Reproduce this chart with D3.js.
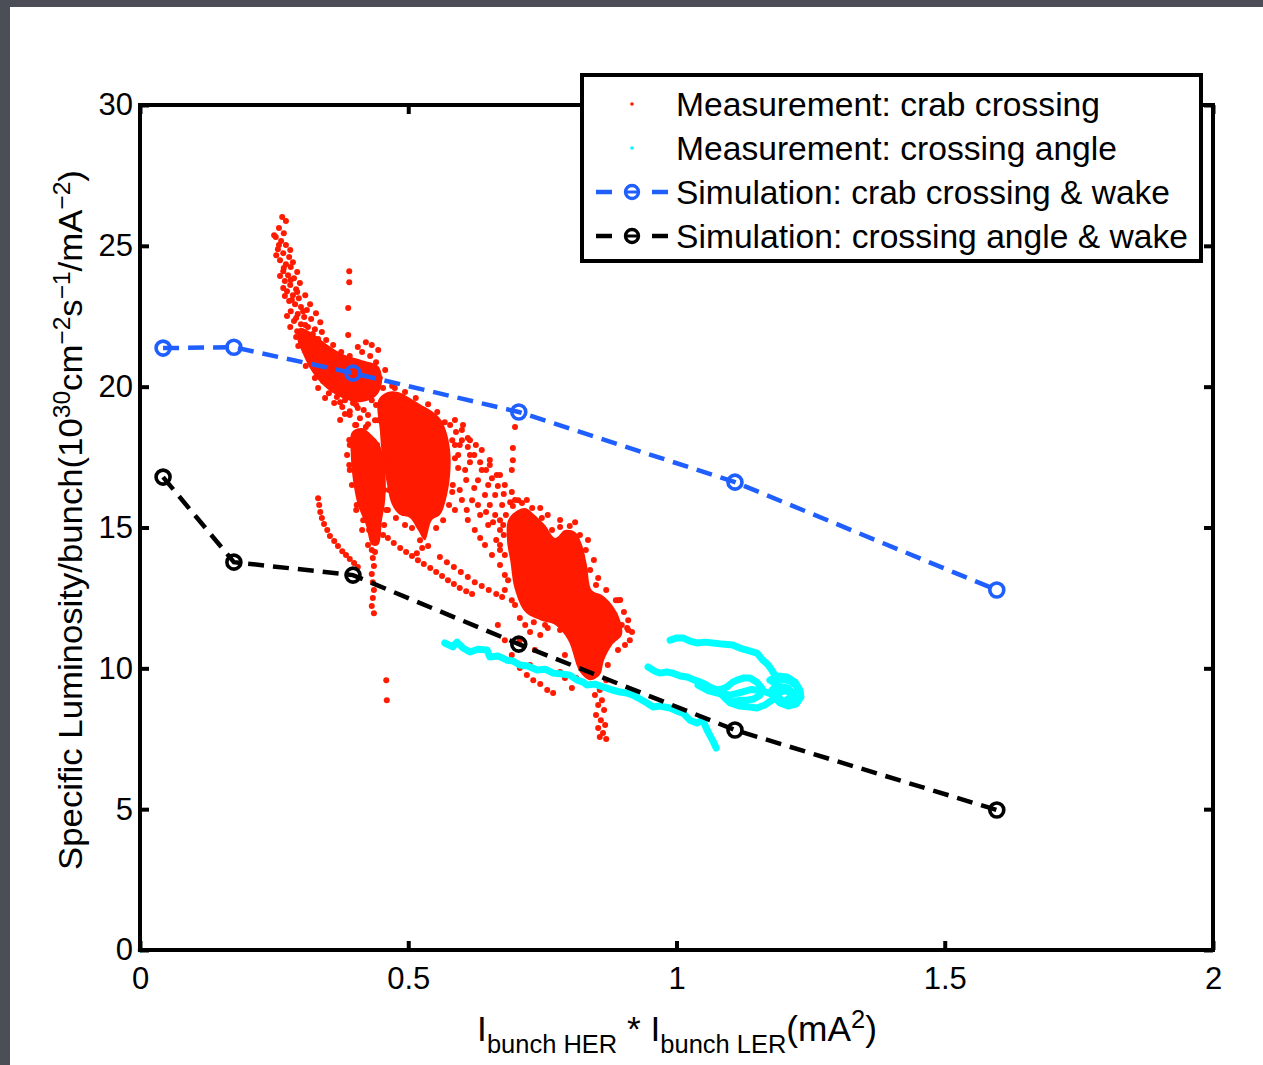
<!DOCTYPE html>
<html><head><meta charset="utf-8">
<script src="https://cdn.jsdelivr.net/npm/d3@7"></script>
<style>body{margin:0;background:#4b4e57;} svg{display:block;}</style>
</head><body><svg id="c" width="1263" height="1065"></svg>
<script>
// ---------------- DATA ----------------
const xTicks = [0, 0.5, 1, 1.5, 2];
const xTickLabels = ["0", "0.5", "1", "1.5", "2"];
const yTicks = [0, 5, 10, 15, 20, 25, 30];
const yTickLabels = ["0", "5", "10", "15", "20", "25", "30"];

const simX = [0.043, 0.175, 0.397, 0.706, 1.109, 1.597];
const simCrabWake = [21.37, 21.40, 20.48, 19.10, 16.61, 12.78];
const simAngleWake = [16.79, 13.77, 13.31, 10.86, 7.81, 4.97];

const legendLabels = [
  "Measurement: crab crossing",
  "Measurement: crossing angle",
  "Simulation: crab crossing & wake",
  "Simulation: crossing angle & wake"
];

// measurement (crab crossing): dense cores
const crabDenseRegions = [
  [[0.444,19.52],[0.462,19.81],[0.481,19.81],[0.503,19.60],[0.522,19.38],[0.541,19.17],[0.559,18.88],[0.570,18.46],[0.578,17.75],[0.578,16.86],[0.570,15.97],[0.559,15.44],[0.544,15.26],[0.531,14.55],[0.518,14.91],[0.503,15.34],[0.485,15.44],[0.470,15.80],[0.459,16.68],[0.451,17.57],[0.447,18.46]],
  [[0.395,18.39],[0.414,18.53],[0.432,18.28],[0.447,17.93],[0.457,17.04],[0.457,15.97],[0.451,15.26],[0.444,14.38],[0.432,14.38],[0.421,15.09],[0.406,15.80],[0.397,16.68],[0.393,17.57]],
  [[0.686,15.26],[0.699,15.55],[0.718,15.69],[0.736,15.44],[0.755,15.09],[0.774,14.63],[0.792,14.91],[0.811,14.84],[0.824,14.38],[0.833,13.67],[0.842,12.78],[0.861,12.60],[0.880,12.25],[0.895,11.71],[0.898,11.18],[0.880,10.83],[0.865,10.29],[0.857,9.76],[0.839,9.58],[0.820,9.87],[0.798,11.00],[0.774,11.54],[0.746,11.71],[0.718,12.00],[0.699,12.78],[0.690,13.84],[0.684,14.55]],
  [[0.298,22.08],[0.321,21.90],[0.350,21.48],[0.382,21.12],[0.414,20.94],[0.444,20.73],[0.451,20.16],[0.440,19.67],[0.410,19.45],[0.377,19.60],[0.347,19.95],[0.321,20.52],[0.302,21.23],[0.293,21.73]]
];

// measurement (crab crossing): individual points
const crabTailPoints = [
  [0.265,26.02],[0.272,25.88],[0.259,25.63],[0.268,25.45],[0.253,25.31],[0.263,25.17],[0.272,25.03],[0.257,24.88],[0.267,24.74],[0.278,24.60],
  [0.261,24.49],[0.272,24.35],[0.281,24.25],[0.267,24.10],[0.276,23.96],[0.287,23.85],[0.270,23.75],[0.280,23.61],[0.291,23.46],[0.274,23.39],
  [0.285,23.25],[0.296,23.14],[0.278,23.04],[0.289,22.93],[0.300,22.83],[0.311,22.72],[0.281,22.68],[0.294,22.58],[0.306,22.47],[0.319,22.40],
  [0.287,22.33],[0.300,22.22],[0.313,22.12],[0.326,22.04],[0.293,21.97],[0.306,21.87],[0.319,21.76],[0.332,21.69],[0.300,21.62],[0.315,21.51],
  [0.330,21.41],[0.345,21.34],[0.308,21.26],[0.322,21.19],[0.337,21.09],[0.352,21.02],[0.367,20.91],[0.319,20.91],[0.334,20.80],[0.349,20.70],
  [0.363,20.63],[0.378,20.55],[0.330,20.55],[0.345,20.41],[0.360,20.30],[0.375,20.20],[0.390,20.13],[0.341,20.20],[0.356,20.02],[0.371,19.91],
  [0.386,19.84],[0.401,19.77],[0.352,19.77],[0.367,19.63],[0.382,19.52],[0.397,19.42],[0.362,19.42],[0.377,19.28],[0.391,19.13],
  [0.390,24.10],[0.390,23.71],[0.388,22.79],[0.388,21.83],
  [0.414,21.23],[0.429,21.09],[0.440,20.87],[0.419,20.73],[0.432,20.52],[0.410,20.23],[0.425,20.06],[0.438,19.88],[0.417,19.70],[0.432,19.52],
  [0.406,19.88],[0.403,19.35],[0.417,19.17],[0.410,18.88],[0.391,18.99],[0.425,18.99],[0.438,18.81],[0.401,18.64],[0.373,19.81],[0.444,21.30],[0.432,21.48]
];
const crabTailFillPoints = [
  [0.250,25.38],[0.259,25.03],[0.280,24.85],[0.254,24.67],[0.285,24.42],[0.268,24.21],[0.293,24.07],[0.261,23.93],[0.281,23.79],[0.298,23.68],
  [0.267,23.50],[0.293,23.36],[0.308,23.25],[0.283,23.08],[0.317,22.93],[0.270,23.22],[0.304,22.68],[0.328,22.61],[0.274,22.51],[0.291,22.44],
  [0.336,22.29],[0.308,22.19],[0.280,22.12],[0.339,21.94],[0.322,21.87],[0.291,21.76],[0.347,21.66],[0.309,21.66],[0.360,21.48],[0.337,21.51],
  [0.295,21.44],[0.375,21.23],[0.328,21.09],[0.391,21.09],[0.354,20.87],[0.380,20.80],[0.403,20.73],[0.309,20.73],[0.339,20.66],[0.369,20.52],
  [0.391,20.45],[0.418,20.38],[0.326,20.31],[0.350,20.31],[0.382,20.09],[0.404,20.09],[0.332,19.95],[0.362,19.88],[0.391,19.67],[0.414,19.60],
  [0.345,19.60],[0.373,19.45],[0.406,19.24],[0.382,19.03],[0.425,18.67],[0.373,18.82],[0.447,20.31],[0.457,20.59],[0.421,21.58],[0.406,21.41],
  [0.457,19.52],[0.470,19.60],[0.466,19.28],[0.453,19.10],[0.475,19.95]
];
const crabMainPoints = [
  [0.440,19.35],[0.453,19.95],[0.470,20.02],[0.494,19.81],[0.514,19.60],[0.537,19.38],[0.554,19.10],[0.568,18.74],[0.582,18.10],[0.587,17.46],
  [0.583,16.51],[0.576,15.80],[0.565,15.26],[0.552,14.98],[0.537,14.34],[0.522,14.55],[0.507,14.98],[0.494,15.09],[0.477,15.34],[0.462,15.62],
  [0.455,16.33],[0.447,17.04],[0.442,17.93],[0.444,18.81],[0.526,14.27],[0.516,14.09],
  [0.391,17.93],[0.403,18.64],[0.421,18.57],[0.390,17.22],[0.395,16.51],[0.404,15.80],[0.416,15.26],[0.427,14.91],[0.438,14.13],[0.455,15.09],
  [0.390,18.11],[0.386,17.57],[0.391,17.04],[0.464,17.40],[0.464,16.33],[0.459,15.62],[0.453,14.73],[0.425,14.38],[0.414,14.91],[0.403,15.62],
  [0.432,14.20],[0.434,13.92],[0.436,13.63],[0.432,13.35],[0.434,13.06],[0.436,12.78],[0.434,12.50],[0.432,12.21],[0.436,11.96],
  [0.459,9.58],[0.460,8.87]
];
const crabStreamPoints = [
  [0.332,16.04],[0.334,15.80],[0.336,15.55],[0.339,15.34],[0.343,15.12],[0.349,14.91],[0.354,14.70],[0.362,14.52],[0.369,14.34],[0.377,14.16],
  [0.384,14.02],[0.391,13.88],[0.399,13.74],[0.406,13.60],
  [0.462,14.63],[0.473,14.45],[0.485,14.27],[0.496,14.13],[0.507,13.99],[0.518,13.84],[0.529,13.70],[0.541,13.56],[0.552,13.42],[0.563,13.28],
  [0.574,13.13],[0.585,12.99],[0.596,12.85],[0.608,12.74],[0.619,12.64],
  [0.559,13.95],[0.572,13.77],[0.585,13.60],[0.598,13.42],[0.611,13.24],[0.624,13.06],[0.637,12.92],[0.650,12.78],[0.664,12.64],[0.675,12.53],
  [0.578,18.64],[0.589,18.39],[0.600,18.10],[0.611,17.86],[0.623,17.57],[0.634,17.32],[0.645,17.04],[0.656,16.75],[0.667,16.47],[0.678,16.19],[0.690,15.90],
  [0.593,17.57],[0.606,17.04],[0.615,17.32],[0.630,16.68],[0.643,16.15],[0.652,15.80],[0.662,15.44],[0.619,15.97],[0.634,15.44],[0.649,15.09],
  [0.596,16.33],[0.609,15.62],[0.671,14.91],[0.624,14.91],[0.643,14.38],[0.656,14.02],[0.671,13.67],[0.680,13.31],[0.671,15.26],[0.602,18.64],
  [0.615,18.10],[0.587,17.93],[0.637,17.75],[0.652,17.22],[0.665,16.86],[0.680,16.51],[0.693,16.26],[0.705,15.97],
  [0.699,18.57],[0.695,17.82],[0.695,17.39],[0.693,17.04]
];
const crabMidFillPoints = [
  [0.587,18.82],[0.600,18.46],[0.611,18.18],[0.626,17.93],[0.593,17.11],[0.608,16.69],[0.623,16.40],[0.637,17.04],[0.649,16.51],[0.662,16.15],
  [0.630,15.80],[0.645,15.55],[0.658,15.19],[0.675,15.80],[0.600,15.98],[0.587,15.62],[0.611,15.27],[0.634,14.63],[0.664,14.56],[0.652,17.40],
  [0.671,16.86],[0.596,17.93],[0.615,17.57],[0.582,16.26],[0.671,14.20]
];
const crabLowerPoints = [
  [0.682,15.44],[0.695,15.76],[0.712,15.87],[0.731,15.69],[0.749,15.34],[0.768,14.91],[0.783,15.02],[0.801,15.05],[0.820,14.73],[0.831,14.20],
  [0.839,13.49],[0.850,12.96],[0.869,12.78],[0.887,12.42],[0.902,12.00],[0.908,11.43],[0.891,10.65],[0.872,10.12],[0.869,9.58],[0.842,9.44],
  [0.813,9.66],[0.792,10.47],[0.783,11.36],[0.760,11.43],[0.734,11.64],[0.708,11.79],[0.693,12.42],[0.686,13.13],[0.680,14.02],[0.678,14.73],
  [0.677,15.09],[0.671,14.38],[0.680,12.78],[0.699,12.25],[0.755,11.54],[0.839,11.72],[0.857,12.07],[0.880,12.00],[0.895,12.43],[0.854,13.21],
  [0.846,13.85],[0.835,14.56],[0.811,15.19],[0.783,15.27],[0.760,15.44],[0.746,15.69],[0.721,15.98],[0.699,15.98],
  [0.885,11.89],[0.898,11.54],[0.910,11.36],[0.913,11.00],[0.904,10.83],[0.891,12.42],[0.917,11.29],[0.910,11.71],[0.880,11.00],
  [0.852,9.41],[0.857,9.23],[0.848,9.05],[0.861,8.87],[0.854,8.70],[0.865,8.52],[0.850,8.34],[0.859,8.16],[0.867,7.99],[0.854,7.88],
  [0.863,7.70],[0.857,7.56],[0.869,7.49],
  [0.708,10.01],[0.721,9.76],[0.733,9.58],[0.746,9.44],[0.759,9.23],[0.770,9.12],[0.727,10.12],[0.783,9.87],[0.805,9.30],[0.792,9.66],
  [0.693,10.47],[0.680,11.00],[0.667,11.54],[0.708,11.00],[0.736,10.65],[0.718,11.54],[0.727,11.29],[0.746,11.18]
];

// measurement (crossing angle): traces of consecutive points
const angleTraces = [
  [[0.568,10.90],[0.583,10.76],[0.591,10.93],[0.602,10.72],[0.615,10.58],[0.630,10.68],[0.647,10.65],[0.652,10.40],[0.667,10.44],[0.684,10.29],
   [0.695,10.26],[0.708,10.12],[0.723,10.08],[0.740,9.94],[0.755,9.97],[0.770,9.83],[0.787,9.80],[0.801,9.76],[0.815,9.58],[0.826,9.51],
   [0.833,9.41],[0.848,9.44],[0.863,9.34],[0.880,9.23],[0.895,9.16],[0.908,9.12],[0.919,9.05],[0.932,8.91],[0.945,8.77],[0.956,8.63],
   [0.969,8.66],[0.988,8.59],[1.001,8.48],[1.012,8.41],[1.025,8.16],[1.038,8.06],[1.049,8.16],[1.057,7.81],[1.064,7.56],[1.068,7.42],[1.074,7.17]],
  [[0.988,11.00],[1.001,11.08],[1.012,11.08],[1.025,10.97],[1.038,10.90],[1.053,10.93],[1.068,10.90],[1.085,10.86],[1.105,10.83],[1.118,10.72],
   [1.131,10.65],[1.150,10.54],[1.161,10.29],[1.171,10.12],[1.180,9.87],[1.185,9.66],
   [1.174,9.58],[1.189,9.73],[1.206,9.69],[1.221,9.51],[1.230,9.23],[1.232,8.98],[1.223,8.73],[1.208,8.66],[1.193,8.77],[1.182,8.98],
   [1.178,9.23],[1.189,9.37],[1.208,9.30],[1.219,9.05],[1.204,8.87]],
  [[0.947,10.05],[0.960,9.90],[0.969,9.83],[0.982,9.87],[0.993,9.83],[1.007,9.73],[1.020,9.69],[1.034,9.58],[1.049,9.48],[1.062,9.34],
   [1.075,9.23],[1.085,9.27],[1.094,9.34],[1.105,9.51],[1.113,9.58],[1.126,9.66],[1.137,9.66],[1.150,9.51],[1.159,9.30],[1.156,9.05],
   [1.144,8.91],[1.131,8.87],[1.118,8.87],[1.105,8.80],[1.094,8.87],[1.085,9.05],[1.100,8.77],[1.118,8.66],[1.137,8.63],[1.150,8.59],
   [1.165,8.70],[1.178,8.87]],
  [[1.180,9.50],[1.195,9.62],[1.212,9.55],[1.225,9.35],[1.228,9.10],[1.215,8.85],[1.197,8.82],[1.186,9.10],[1.200,9.20],[1.215,9.15]],
  [[1.040,9.40],[1.060,9.20],[1.080,9.10],[1.100,9.05],[1.120,9.15],[1.140,9.25],[1.160,9.20],[1.175,9.10]]
];
const angleSinglePoints = [[0, 0]];

// ---------------- CHART ----------------
const W = 1263, H = 1065;
const RED = "#ff1a00", CYAN = "#00ffff", BLUE = "#1f5fff";
const FONT = "'Liberation Sans', Arial, Helvetica, sans-serif";
const svg = d3.select("#c");
svg.append("rect").attr("x", 10).attr("y", 7).attr("width", W - 10).attr("height", H - 7).attr("fill", "#fff");

const m = {l: 140, r: 1213, t: 105, b: 950};
const x = d3.scaleLinear().domain([0, 2]).range([m.l, m.r]);
const y = d3.scaleLinear().domain([0, 30]).range([m.b, m.t]);

const plot = svg.append("g");
const line = d3.line().x(d => x(d[0])).y(d => y(d[1]));

// red dense cores
plot.selectAll("path.dense").data(crabDenseRegions).join("path")
  .attr("d", d => d3.line().x(p => x(p[0])).y(p => y(p[1])).curve(d3.curveCatmullRomClosed.alpha(0.5))(d))
  .attr("fill", RED);
// red points
const crabPoints = crabTailPoints.concat(crabTailFillPoints, crabMainPoints, crabStreamPoints, crabMidFillPoints, crabLowerPoints);
plot.selectAll("circle.crab").data(crabPoints).join("circle")
  .attr("cx", d => x(d[0])).attr("cy", d => y(d[1])).attr("r", 3).attr("fill", RED);

// cyan traces
plot.selectAll("path.angle").data(angleTraces).join("path")
  .attr("d", line).attr("fill", "none").attr("stroke", CYAN).attr("stroke-width", 7)
  .attr("stroke-linejoin", "round").attr("stroke-linecap", "round");
plot.selectAll("circle.angle").data(angleSinglePoints).join("circle")
  .attr("cx", d => x(d[0])).attr("cy", d => y(d[1])).attr("r", 2.6).attr("fill", CYAN);

// simulations
function drawSim(vals, color) {
  const pts = simX.map((v, i) => [v, vals[i]]);
  plot.append("path").attr("d", line(pts)).attr("fill", "none").attr("stroke", color)
    .attr("stroke-width", 4.5).attr("stroke-dasharray", "16,9");
  plot.selectAll(null).data(pts).join("circle")
    .attr("cx", d => x(d[0])).attr("cy", d => y(d[1])).attr("r", 7)
    .attr("fill", "none").attr("stroke", color).attr("stroke-width", 3.6);
}
drawSim(simCrabWake, BLUE);
drawSim(simAngleWake, "#000");

// axes
function styleAxis(g) {
  g.select(".domain").remove();
  g.selectAll(".tick line").attr("stroke", "#000").attr("stroke-width", 4);
  g.selectAll(".tick text").attr("fill", "#000").style("font-family", FONT).style("font-size", "31px");
}
svg.append("g").attr("transform", `translate(0,${m.b})`)
  .call(d3.axisBottom(x).tickValues(xTicks).tickFormat((d, i) => xTickLabels[i]).tickSize(-9).tickPadding(17)).call(styleAxis);
svg.append("g").attr("transform", `translate(0,${m.t})`)
  .call(d3.axisTop(x).tickValues(xTicks).tickFormat("").tickSize(-9)).call(styleAxis);
svg.append("g").attr("transform", `translate(${m.l},0)`)
  .call(d3.axisLeft(y).tickValues(yTicks).tickFormat((d, i) => yTickLabels[i]).tickSize(-9).tickPadding(7)).call(styleAxis);
svg.append("g").attr("transform", `translate(${m.r},0)`)
  .call(d3.axisRight(y).tickValues(yTicks).tickFormat("").tickSize(-9)).call(styleAxis);
svg.append("rect").attr("x", m.l).attr("y", m.t).attr("width", m.r - m.l).attr("height", m.b - m.t)
  .attr("fill", "none").attr("stroke", "#000").attr("stroke-width", 4);

// rich text helper
function richText(parent, parts, size, small, shift) {
  const t = parent.append("text").style("font-family", FONT).style("font-size", size + "px").attr("fill", "#000");
  let cur = 0;
  parts.forEach(([s, k]) => {
    const target = k === 1 ? -shift.sup : (k === -1 ? shift.sub : 0);
    t.append("tspan").text(s).attr("dy", target - cur).style("font-size", (k === 0 ? size : small) + "px");
    cur = target;
  });
  return t;
}

// y title
const ytG = svg.append("g");
const yt = richText(ytG, [["Specific Luminosity/bunch(10",0],["30",1],["cm",0],["\u22122",1],["s",0],["\u22121",1],["/mA",0],["\u22122",1],[")",0]], 34, 24, {sup: 12, sub: 0})
  .attr("text-anchor", "middle");
const ytw = yt.node().getBBox().width;
ytG.attr("transform", `translate(82,520) rotate(-90) scale(${700 / ytw},1)`);

// x title
const xtG = svg.append("g");
const xt = richText(xtG, [["I",0],["bunch HER",-1],[" * I",0],["bunch LER",-1],["(mA",0],["2",1],[")",0]], 36, 26, {sup: 13, sub: 12})
  .attr("text-anchor", "middle");
const xtw = xt.node().getBBox().width;
xtG.attr("transform", `translate(677,1041) scale(${400 / xtw},1)`);

// legend
const lg = svg.append("g");
lg.append("rect").attr("x", 582).attr("y", 75).attr("width", 619).attr("height", 186)
  .attr("fill", "#fff").attr("stroke", "#000").attr("stroke-width", 4);
const rowY = [104, 148, 192, 236];
const textEnds = [1100, 1117, 1170, 1188];
legendLabels.forEach((lab, i) => {
  lg.append("text").attr("x", 676).attr("y", rowY[i] + 12).text(lab)
    .style("font-family", FONT).style("font-size", "34px").attr("fill", "#000")
    .attr("textLength", textEnds[i] - 676).attr("lengthAdjust", "spacingAndGlyphs");
});
lg.append("circle").attr("cx", 632).attr("cy", rowY[0]).attr("r", 1.8).attr("fill", RED);
lg.append("circle").attr("cx", 632).attr("cy", rowY[1]).attr("r", 1.8).attr("fill", CYAN);
[[BLUE, rowY[2]], ["#000", rowY[3]]].forEach(([c, yy]) => {
  lg.append("line").attr("x1", 596).attr("x2", 668).attr("y1", yy).attr("y2", yy)
    .attr("stroke", c).attr("stroke-width", 4.5).attr("stroke-dasharray", "16,40");
  lg.append("circle").attr("cx", 632).attr("cy", yy).attr("r", 6.5).attr("fill", "none").attr("stroke", c).attr("stroke-width", 3.4);
  lg.append("line").attr("x1", 627).attr("x2", 637).attr("y1", yy).attr("y2", yy).attr("stroke", c).attr("stroke-width", 3);
});
</script></body></html>
